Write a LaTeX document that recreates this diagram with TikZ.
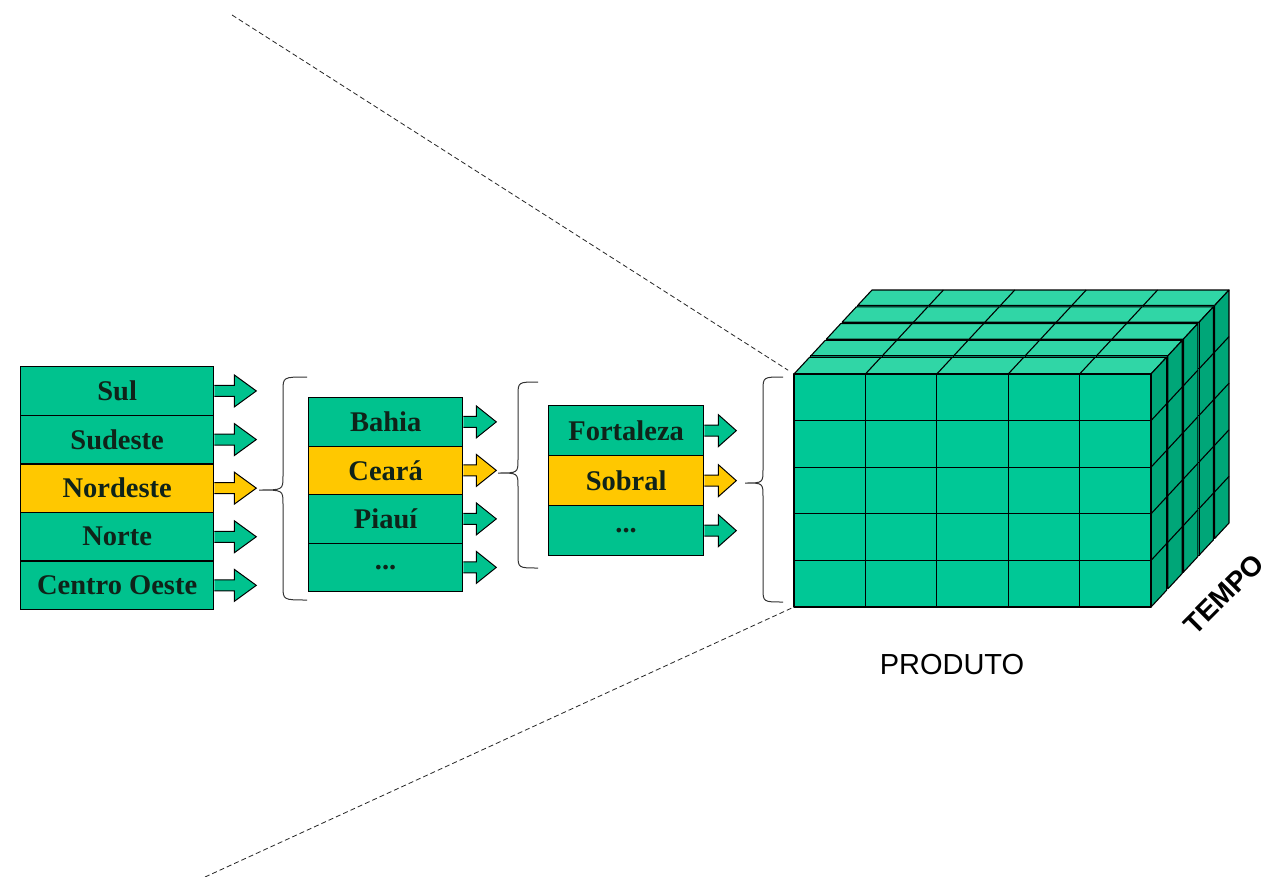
\documentclass[tikz,border=0pt]{standalone}
\usepackage{fontspec}
\setmainfont{Liberation Serif}
\newfontfamily\arialfont{Liberation Sans}
\usetikzlibrary{calc}
\definecolor{boxgreen}{RGB}{0,194,142}
\definecolor{boxyellow}{RGB}{255,200,0}
\definecolor{cubefront}{RGB}{0,200,150}
\definecolor{cubetop}{RGB}{48,214,166}
\definecolor{cubeside}{RGB}{0,166,120}
\definecolor{txtdark}{RGB}{15,35,25}
\newcommand\blkarrow[4]{%
  \filldraw[arrowline, fill=#4] ($(#1)+(0,-5.5)$) -- ++(#2,0) -- ++(0,-10.5) -- ++(#3,16) -- ++(-#3,16) -- ++(0,-10.5) -- ++(-#2,0);}
\newcommand\mybrace[6]{% end x, spine x, tip x, top y, mid y, bottom y
  \draw[braceline] (#1,#4) .. controls (#2,#4) and (#2,#4) .. (#2,#4+14) -- (#2,#5-14) .. controls (#2,#5) and (#2,#5) .. (#3,#5) .. controls (#2,#5) and (#2,#5) .. (#2,#5+14) -- (#2,#6-14) .. controls (#2,#6) and (#2,#6) .. (#1,#6);}
\begin{document}
\begin{tikzpicture}[x=1pt,y=-1pt,
  every node/.style={inner sep=0pt},
  rowbox/.style={draw=black, line width=1.3pt, fill=boxgreen, anchor=north west,
    font=\fontsize{28.5}{30}\selectfont\bfseries, text=txtdark},
  hl/.style={fill=boxyellow},
  arrowline/.style={draw=black, line width=1pt},
  braceline/.style={draw=black!80, line width=1pt},
  cubeline/.style={draw=black, line width=1.1pt, line join=round},
  dashline/.style={draw=black!85, line width=0.8pt, dash pattern=on 5pt off 3pt}]
\fill[white] (0,0) rectangle (1271,877);
\useasboundingbox (0,0) rectangle (1271,877);

% column 1
\begin{scope}[every node/.append style={minimum width=193pt, minimum height=48.6pt}]
\node[rowbox] (sul) at (20,366) {Sul};
\node[rowbox] (sudeste) at (20,414.6) {Sudeste};
\node[rowbox, hl] (nordeste) at (20,463.2) {Nordeste};
\node[rowbox] (norte) at (20,511.8) {Norte};
\node[rowbox] (centro) at (20,560.4) {Centro Oeste};
\end{scope}
% column 2
\begin{scope}[every node/.append style={minimum width=154pt, minimum height=48.5pt}]
\node[rowbox] (bahia) at (308,397) {Bahia};
\node[rowbox, hl] (ceara) at (308,445.5) {Ceará};
\node[rowbox] (piaui) at (308,494) {Piauí};
\node[rowbox] (dotsb) at (308,542.5) {...};
\end{scope}
% column 3
\begin{scope}[every node/.append style={minimum width=155pt, minimum height=50pt}]
\node[rowbox] (fortaleza) at (548,405) {Fortaleza};
\node[rowbox, hl] (sobral) at (548,455) {Sobral};
\node[rowbox] (dotsc) at (548,505) {...};
\end{scope}

% block arrows
\blkarrow{sul.east}{20}{22}{boxgreen}
\blkarrow{sudeste.east}{20}{22}{boxgreen}
\blkarrow{nordeste.east}{20}{22}{boxyellow}
\blkarrow{norte.east}{20}{22}{boxgreen}
\blkarrow{centro.east}{20}{22}{boxgreen}
\blkarrow{bahia.east}{13}{20}{boxgreen}
\blkarrow{ceara.east}{13}{20}{boxyellow}
\blkarrow{piaui.east}{13}{20}{boxgreen}
\blkarrow{dotsb.east}{13}{20}{boxgreen}
\blkarrow{fortaleza.east}{14}{18}{boxgreen}
\blkarrow{sobral.east}{14}{18}{boxyellow}
\blkarrow{dotsc.east}{14}{18}{boxgreen}

% braces
\mybrace{307}{283}{259}{377}{490}{600}
\mybrace{538}{518}{498}{382}{473}{568}
\mybrace{783}{763}{745}{377}{483}{602}

% cube
\begin{scope}[shift={(794pt,-374pt)}, x={(71.4pt,0pt)}, y={(0pt,-46.6pt)}, z={(15.6pt,16.8pt)}]
\foreach \k in {4,3,2,1,0} {
  \pgfmathsetmacro\da{\k+0.08*(\k>0)}
  \pgfmathsetmacro\db{\k+1}
  \filldraw[cubeline, fill=cubetop] (0,0,\da) -- (5,0,\da) -- (5,0,\db) -- (0,0,\db) -- cycle;
  \foreach \i in {1,...,4} \draw[cubeline] (\i,0,\da) -- (\i,0,\db);
  \filldraw[cubeline, fill=cubeside] (5,0,\da) -- (5,5,\da) -- (5,5,\db) -- (5,0,\db) -- cycle;
  \foreach \j in {1,...,4} \draw[cubeline] (5,\j,\da) -- (5,\j,\db);
  \filldraw[cubeline, fill=cubefront] (0,0,\da) -- (5,0,\da) -- (5,5,\da) -- (0,5,\da) -- cycle;
  \foreach \i in {1,...,4} \draw[cubeline] (\i,0,\da) -- (\i,5,\da);
  \foreach \j in {1,...,4} \draw[cubeline] (0,\j,\da) -- (5,\j,\da);
}
\coordinate (cubeTL) at (0,0,0);
\coordinate (cubeBL) at (0,5,0);
\end{scope}

% dashed projection lines
\coordinate (topstart) at (232,15);
\coordinate (botstart) at (205,877);
\draw[dashline, shorten >=7pt] (topstart) -- (cubeTL);
\draw[dashline, shorten >=3pt] (botstart) -- (cubeBL);

% labels
\node[font=\arialfont\fontsize{29}{31}\selectfont, text=black] (produto) at (952,665) {PRODUTO};
\node[font=\arialfont\fontsize{28}{30}\selectfont\bfseries, text=black, rotate=45] (tempo) at (1224,594) {TEMPO};
\end{tikzpicture}
\end{document}
